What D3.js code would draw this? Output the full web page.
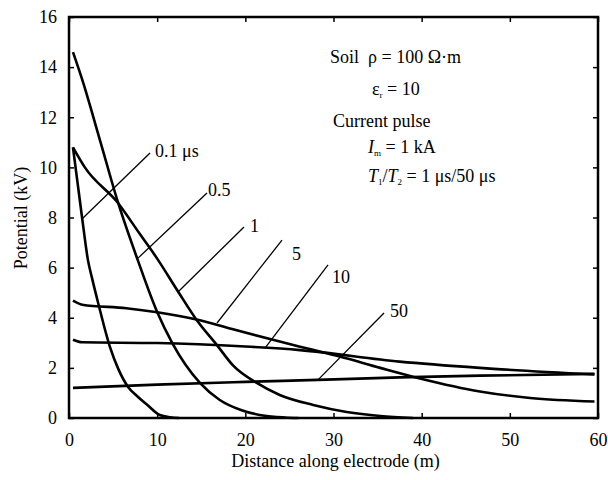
<!DOCTYPE html>
<html>
<head>
<meta charset="utf-8">
<script src="https://cdn.jsdelivr.net/npm/d3@7"></script>
<style>
  body { margin: 0; background: #fff; }
  text { font-family: "Liberation Serif", "Times New Roman", serif; fill: #000; }
</style>
</head>
<body>
<script>
const width = 608;
const height = 480;
const svg = d3.select("body").append("svg");
svg.attr("width", width);
svg.attr("height", height);

// curves: [distance (m), potential (kV)]
const t01 = [[0.45,10.8],[1.5,7.95],[2.15,6.3],[2.6,5.6],[3.3,4.6],[4.65,2.83],[5.6,1.95],[6.7,1.24],[7.8,0.85],[8.8,0.55],[10.3,0.12],[11.5,0.03],[12.5,0]];
const t05 = [[0.45,14.6],[1.5,13.5],[3.5,11.1],[5.56,8.6],[7.8,6.3],[10,4.23],[11.7,3.0],[14.85,1.4],[17.1,0.72],[19.5,0.32],[22,0.1],[24.5,0.02],[26,0]];
const t1 = [[0.45,10.8],[1.8,10.0],[5.56,8.58],[8,7.36],[10,6.36],[12.4,5.03],[14.5,3.9],[16.8,2.9],[18.6,2.1],[21.3,1.4],[23.9,0.92],[27.7,0.52],[31.5,0.24],[35.3,0.08],[39,0]];
const t5 = [[0.45,4.68],[1.5,4.52],[6.5,4.38],[10,4.22],[14.85,3.9],[18.5,3.55],[23.9,3.05],[27.3,2.75],[30.7,2.45],[35.3,2.0],[39.8,1.58],[46.6,1.06],[52.3,0.8],[59.6,0.66]];
const t10 = [[0.45,3.12],[1.5,3.02],[10,2.99],[20,2.85],[26.2,2.71],[37.5,2.25],[46.6,2.0],[59.6,1.74]];
const t50 = [[0.45,1.2],[10,1.33],[20,1.44],[28.2,1.52],[37.5,1.62],[46.6,1.69],[59.6,1.76]];
const series = [t01, t05, t1, t5, t10, t50];

const xTicks = [0, 10, 20, 30, 40, 50, 60];
const yTicks = [0, 2, 4, 6, 8, 10, 12, 14, 16];

// curve labels with leader lines: label pos, leader start, leader end (data units)
const labelText = ["0.1 μs", "0.5", "1", "5", "10", "50"];
const labelPos = [[9.76,10.42],[15.77,8.86],[20.53,7.42],[25.29,6.3],[29.83,5.39],[36.4,4.03]];
const leaderFrom = [[9.19,10.57],[15.65,8.98],[19.85,7.62],[24.16,7.1],[29.38,6.11],[35.73,4.19]];
const leaderTo = [[1.47,7.94],[7.83,6.38],[12.36,5.03],[16.79,3.79],[22.23,2.79],[28.24,1.52]];

const mLeft = 69, mRight = 598, mTop = 17, mBottom = 418;
const x = d3.scaleLinear().domain([0, 60]).range([mLeft, mRight]);
const y = d3.scaleLinear().domain([0, 16]).range([mBottom, mTop]);

const fs = 18;

// ticks (inside, on all four sides)
const tk = 5;
svg.append("g").attr("transform", `translate(0,${mBottom})`)
  .call(d3.axisBottom(x).tickValues(xTicks).tickSizeInner(-tk).tickSizeOuter(0).tickPadding(15))
  .call(g => g.select(".domain").remove())
  .call(g => g.selectAll("line").attr("stroke", "#000").attr("stroke-width", 1.5))
  .call(g => g.selectAll("text").attr("font-size", fs).attr("font-family", "Liberation Serif").attr("fill", "#000"));
svg.append("g").attr("transform", `translate(0,${mTop})`)
  .call(d3.axisTop(x).tickValues(xTicks).tickSizeInner(-tk).tickSizeOuter(0).tickFormat(""))
  .call(g => g.select(".domain").remove())
  .call(g => g.selectAll("line").attr("stroke", "#000").attr("stroke-width", 1.5));
svg.append("g").attr("transform", `translate(${mLeft},0)`)
  .call(d3.axisLeft(y).tickValues(yTicks).tickSizeInner(-tk).tickSizeOuter(0).tickPadding(12))
  .call(g => g.select(".domain").remove())
  .call(g => g.selectAll("line").attr("stroke", "#000").attr("stroke-width", 1.5))
  .call(g => g.selectAll("text").attr("font-size", fs).attr("font-family", "Liberation Serif").attr("fill", "#000"));
svg.append("g").attr("transform", `translate(${mRight},0)`)
  .call(d3.axisRight(y).tickValues(yTicks).tickSizeInner(-tk).tickSizeOuter(0).tickFormat(""))
  .call(g => g.select(".domain").remove())
  .call(g => g.selectAll("line").attr("stroke", "#000").attr("stroke-width", 1.5));

// frame
svg.append("rect")
  .attr("x", mLeft).attr("y", mTop)
  .attr("width", mRight - mLeft).attr("height", mBottom - mTop)
  .attr("fill", "none").attr("stroke", "#000").attr("stroke-width", 2.5);

// curves
const line = d3.line().x(d => x(d[0])).y(d => y(d[1])).curve(d3.curveMonotoneX);
svg.selectAll("path.curve")
  .data(series)
  .join("path")
  .attr("class", "curve")
  .attr("d", line)
  .attr("fill", "none")
  .attr("stroke", "#000")
  .attr("stroke-width", 2.6)
  .attr("stroke-linejoin", "round");

// leaders + labels
svg.selectAll("line.leader")
  .data(d3.range(labelText.length))
  .join("line")
  .attr("class", "leader")
  .attr("x1", i => x(leaderFrom[i][0])).attr("y1", i => y(leaderFrom[i][1]))
  .attr("x2", i => x(leaderTo[i][0])).attr("y2", i => y(leaderTo[i][1]))
  .attr("stroke", "#000").attr("stroke-width", 1.3);
svg.selectAll("text.lbl")
  .data(d3.range(labelText.length))
  .join("text")
  .attr("class", "lbl")
  .attr("x", i => x(labelPos[i][0])).attr("y", i => y(labelPos[i][1]))
  .attr("font-size", fs)
  .text(i => labelText[i]);

// axis titles
svg.append("text")
  .attr("x", (mLeft + mRight) / 2 + 2).attr("y", 467)
  .attr("text-anchor", "middle").attr("font-size", fs)
  .text("Distance along electrode (m)");
svg.append("text")
  .attr("transform", "translate(27,218) rotate(-90)")
  .attr("text-anchor", "middle").attr("font-size", fs)
  .text("Potential (kV)");

// parameters block
const note = svg.append("g").attr("font-size", fs);
note.append("text").attr("x", 330).attr("y", 63).attr("xml:space", "preserve").text("Soil  ρ = 100 Ω·m");
const eps = note.append("text").attr("x", 372).attr("y", 95);
eps.append("tspan").text("ε");
eps.append("tspan").attr("font-size", 9).attr("dy", 3).text("r");
eps.append("tspan").attr("dy", -3).text(" = 10");
note.append("text").attr("x", 333).attr("y", 127).text("Current pulse");
const im = note.append("text").attr("x", 368).attr("y", 153);
im.append("tspan").attr("font-style", "italic").text("I");
im.append("tspan").attr("font-size", 9).attr("dy", 3).text("m");
im.append("tspan").attr("dy", -3).text(" = 1 kA");
const tt = note.append("text").attr("x", 368).attr("y", 182);
tt.append("tspan").attr("font-style", "italic").text("T");
tt.append("tspan").attr("font-size", 9).attr("dy", 3).text("1");
tt.append("tspan").attr("dy", -3).text("/");
tt.append("tspan").attr("font-style", "italic").text("T");
tt.append("tspan").attr("font-size", 9).attr("dy", 3).text("2");
tt.append("tspan").attr("dy", -3).text(" = 1 μs/50 μs");
</script>
</body>
</html>
